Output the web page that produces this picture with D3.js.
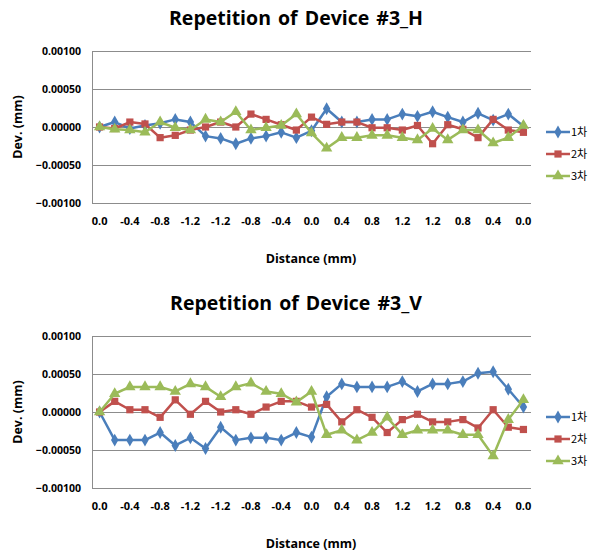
<!DOCTYPE html>
<html>
<head>
<meta charset="utf-8">
<script src="https://cdn.jsdelivr.net/npm/d3@7"></script>
<style>
  body { margin: 0; background: #fff; }
  text { font-family: "Open Sans", "Noto Sans", sans-serif; font-weight: bold; fill: #000; }
  .kr { font-family: "Noto Sans CJK KR", sans-serif; font-weight: normal; }
</style>
</head>
<body>
<svg width="596" height="552"></svg>
<script>
const svg = d3.select("svg");

// x categories: measuring path 0 -> -1.4 -> 0 -> 1.4 -> 0
const distances = ["0.0", "-0.2", "-0.4", "-0.6", "-0.8", "-1.0", "-1.2", "-1.4", "-1.2", "-1.0",
    "-0.8", "-0.6", "-0.4", "-0.2", "0.0", "0.2", "0.4", "0.6", "0.8", "1.0",
    "1.2", "1.4", "1.2", "1.0", "0.8", "0.6", "0.4", "0.2", "0.0"];

const seriesNames = ["1차", "2차", "3차"];
const yTicks = [-0.001, -0.0005, 0, 0.0005, 0.001];

const h1 = [0, 0.000065, -0.00002, 0.00002, 0.00005, 0.0001, 0.000065, -0.00012, -0.00015, -0.00022,
    -0.00015, -0.00012, -0.00007, -0.00014, -0.00005, 0.00024, 0.000065, 0.000065, 0.0001, 0.0001,
    0.00017, 0.00014, 0.0002, 0.00013, 0.000065, 0.00018, 0.00009, 0.00017, 0.00001];
const h2 = [0, -0.00002, 0.000065, 0.00004, -0.00014, -0.00011, -0.00004, 0, 0.000065, 0,
    0.00017, 0.0001, 0.00003, -0.00004, 0.00013, 0.000035, 0.000065, 0.000065, -0.00001, -0.00001,
    -0.00004, 0.00002, -0.00022, 0.00003, -0.00003, -0.00014, 0.0001, -0.00004, -0.00007];
const h3 = [0, -0.00003, -0.00004, -0.00007, 0.000065, -0.00001, -0.00004, 0.0001, 0.000065, 0.0002,
    -0.00004, -0.00001, 0.00002, 0.00017, -0.00008, -0.00028, -0.00014, -0.00014, -0.00011, -0.00011,
    -0.00014, -0.00017, -0.00002, -0.00017, -0.00004, -0.00004, -0.00021, -0.00014, 0.00002];

const v1 = [0, -0.00037, -0.00037, -0.00037, -0.00027, -0.00044, -0.00034, -0.00048, -0.0002, -0.00037,
    -0.00034, -0.00034, -0.00037, -0.00027, -0.00033, 0.0002, 0.00037, 0.00033, 0.00033, 0.00033,
    0.0004, 0.00027, 0.00037, 0.00037, 0.0004, 0.00051, 0.00053, 0.0003, 0.000065];
const v2 = [0, 0.00014, 0.00003, 0.00003, -0.00007, 0.00016, -0.00003, 0.00014, 0, 0.00003,
    -0.00003, 0.000065, 0.00014, 0.00014, 0.000065, 0.0001, -0.00013, 0.00003, -0.00007, -0.00027,
    -0.0001, -0.00003, -0.00013, -0.00013, -0.0001, -0.00021, 0.00003, -0.0002, -0.00023];
const v3 = [0, 0.00024, 0.00033, 0.00033, 0.00033, 0.00027, 0.00037, 0.00033, 0.0002, 0.00033,
    0.00038, 0.00027, 0.00024, 0.00013, 0.00027, -0.0003, -0.00024, -0.00037, -0.00027, -0.00007,
    -0.0003, -0.00024, -0.00024, -0.00024, -0.0003, -0.0003, -0.00058, -0.0001, 0.00016];

const colors = ["#4A7EBB", "#C0504D", "#9BBB59"];
const shapes = [d3.symbolDiamond, d3.symbolSquare, d3.symbolTriangle];
const shapeSizes = [48, 52, 56];

function drawChart(top, title, series) {
    const plot = { left: 92, right: 531, top: top + 51, bottom: top + 203 };

    const x = d3.scaleBand()
        .domain(d3.range(distances.length))
        .range([plot.left, plot.right]);
    const y = d3.scaleLinear()
        .domain([-0.001, 0.001])
        .range([plot.bottom, plot.top]);

    svg.append("text")
        .attr("x", 296)
        .attr("y", top + 25)
        .attr("text-anchor", "middle")
        .style("font-size", "19.5px")
        .style("word-spacing", "2px")
        .text(title);

    // gridlines
    svg.append("g")
        .selectAll("line")
        .data(yTicks)
        .enter()
        .append("line")
        .attr("x1", plot.left)
        .attr("x2", plot.right)
        .attr("y1", d => Math.round(y(d)) + 0.5)
        .attr("y2", d => Math.round(y(d)) + 0.5)
        .attr("stroke", "#8c8c8c")
        .attr("stroke-width", 1);

    svg.append("line")
        .attr("x1", plot.left + 0.5)
        .attr("x2", plot.left + 0.5)
        .attr("y1", plot.top)
        .attr("y2", plot.bottom)
        .attr("stroke", "#8c8c8c");

    const yAxis = svg.append("g")
        .attr("transform", `translate(${plot.left},0)`)
        .call(d3.axisLeft(y).tickValues(yTicks).tickFormat(d3.format(".5f")).tickSize(0).tickPadding(11));
    yAxis.select(".domain").remove();
    yAxis.selectAll("text")
        .style("font-size", "10.5px")
        .style("font-family", "Open Sans, sans-serif")
        .style("font-weight", "bold");

    const xAxis = svg.append("g")
        .attr("transform", `translate(0,${plot.bottom})`)
        .call(d3.axisBottom(x)
            .tickValues(d3.range(0, distances.length, 2))
            .tickFormat(i => distances[i])
            .tickSize(0)
            .tickPadding(14));
    xAxis.select(".domain").remove();
    xAxis.selectAll("text")
        .style("font-size", "11px")
        .style("font-family", "Open Sans, sans-serif")
        .style("font-weight", "bold");

    svg.append("text")
        .attr("x", 311)
        .attr("y", top + 263)
        .attr("text-anchor", "middle")
        .style("font-size", "12.5px")
        .text("Distance (mm)");

    svg.append("text")
        .attr("transform", `translate(22,${(plot.top + plot.bottom) / 2}) rotate(-90)`)
        .attr("text-anchor", "middle")
        .style("font-size", "12.5px")
        .text("Dev. (mm)");

    const line = d3.line()
        .x((d, i) => x(i) + x.bandwidth() / 2)
        .y(d => y(d));

    series.forEach(function(values, s) {
        svg.append("path")
            .datum(values)
            .attr("d", line)
            .attr("fill", "none")
            .attr("stroke", colors[s])
            .attr("stroke-width", 2.5)
            .attr("stroke-linejoin", "round");

        svg.append("g")
            .selectAll("path")
            .data(values)
            .enter()
            .append("path")
            .attr("transform", (d, i) => `translate(${x(i) + x.bandwidth() / 2},${y(d)})`)
            .attr("d", d3.symbol().type(shapes[s]).size(shapeSizes[s]))
            .attr("fill", colors[s]);
    });

    // legend
    const legend = svg.append("g")
        .attr("transform", `translate(546,${top + 132})`);
    seriesNames.forEach(function(name, s) {
        const row = legend.append("g").attr("transform", `translate(0,${s * 22})`);
        row.append("line")
            .attr("x1", 0).attr("x2", 24)
            .attr("stroke", colors[s])
            .attr("stroke-width", 2.5);
        row.append("path")
            .attr("transform", "translate(12,0)")
            .attr("d", d3.symbol().type(shapes[s]).size(shapeSizes[s]))
            .attr("fill", colors[s]);
        row.append("text")
            .attr("class", "kr")
            .attr("x", 25)
            .attr("dy", "0.35em")
            .style("font-size", "11px")
            .text(name);
    });
}

drawChart(0, "Repetition of Device #3_H", [h1, h2, h3]);
drawChart(285, "Repetition of Device #3_V", [v1, v2, v3]);
</script>
</body>
</html>
